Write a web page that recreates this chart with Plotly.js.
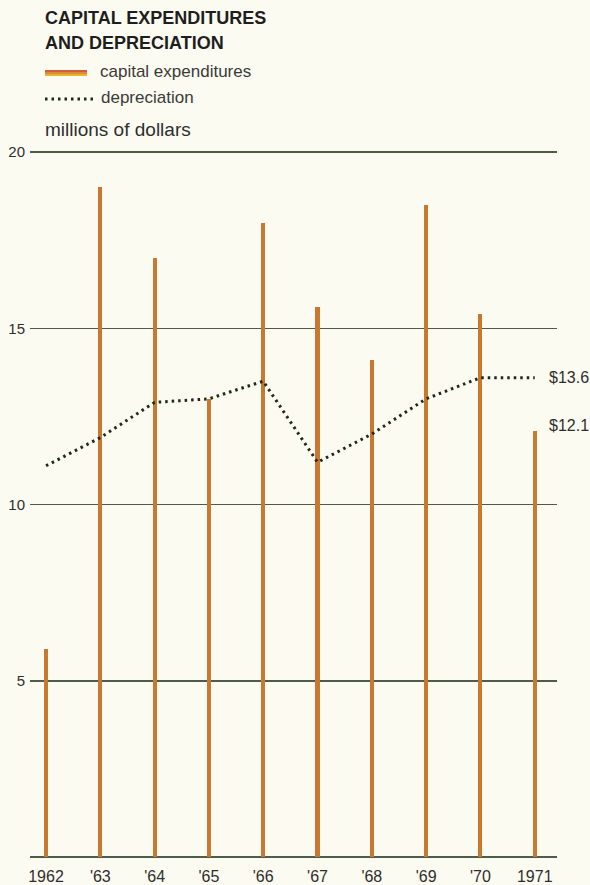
<!DOCTYPE html>
<html>
<head>
<meta charset="utf-8">
<script src="https://cdn.plot.ly/plotly-3.0.1.min.js"></script>
<style>
  html, body { margin: 0; padding: 0; background: #fcfbf1; }
  #chart { width: 590px; height: 885px; }
</style>
</head>
<body>
<div id="chart"></div>
<script>
// Annual figures, millions of dollars
const years = ['1962', "'63", "'64", "'65", "'66", "'67", "'68", "'69", "'70", '1971'];
const capitalExpenditures = [5.9, 19.0, 17.0, 13.0, 18.0, 15.6, 14.1, 18.5, 15.4, 12.1];
const depreciation = [11.1, 11.9, 12.9, 13.0, 13.5, 11.2, 12.0, 13.0, 13.6, 13.6];
const yTicks = [5, 10, 15, 20];

const ink = '#2e2e2e';
const gridInk = '#4f5c47';
const barInk = '#c9782f';
const font = 'Liberation Sans, Arial, sans-serif';

const lastIdx = years.length - 1;

// plot box in pixels, used to place the header block above it
// (35.25 px per million: 0 sits on y=857, 20 on y=152)
const box = { l: 30, r: 33, t: 150, b: 28 };
const yTop = 20.06;
const plotW = 590 - box.l - box.r;
const plotH = 885 - box.t - box.b;
const px = (x) => (x - box.l) / plotW;
const py = (y) => (885 - box.b - y) / plotH;
const xMax = 9.41;
const paperOf = (idx) => (idx + 0.295) / (xMax + 0.295);

const traces = [
  {
    type: 'bar',
    x: years,
    y: capitalExpenditures,
    width: 0.075,
    marker: { color: barInk, line: { width: 0 } },
    hoverinfo: 'skip',
    showlegend: false
  },
  {
    type: 'scatter',
    mode: 'lines',
    x: years,
    y: depreciation,
    line: { color: '#1d2a1a', width: 3, dash: '2.5px,4px' },
    hoverinfo: 'skip',
    showlegend: false
  }
];

const layout = {
  width: 590,
  height: 885,
  margin: box,
  paper_bgcolor: '#fcfbf1',
  plot_bgcolor: '#fcfbf1',
  font: { family: font, color: ink },
  bargap: 0,
  xaxis: {
    type: 'category',
    range: [-0.295, xMax],
    showgrid: false,
    zeroline: false,
    showline: false,
    ticks: '',
    ticklabelstandoff: 8,
    tickfont: { size: 16, color: ink },
    fixedrange: true
  },
  yaxis: {
    range: [0, yTop],
    tickvals: yTicks,
    ticktext: yTicks.map(String),
    showgrid: true,
    gridcolor: gridInk,
    gridwidth: 1.5,
    zeroline: true,
    zerolinecolor: gridInk,
    zerolinewidth: 1.5,
    showline: false,
    ticks: '',
    ticklabelstandoff: 4,
    tickfont: { size: 15, color: ink },
    fixedrange: true
  },
  shapes: [
    // legend swatch: capital expenditures (red / orange / yellow band)
    { type: 'line', xref: 'paper', yref: 'paper',
      x0: px(45), x1: px(87), y0: py(71), y1: py(71),
      line: { color: '#d0613e', width: 2 } },
    { type: 'line', xref: 'paper', yref: 'paper',
      x0: px(45), x1: px(87), y0: py(73), y1: py(73),
      line: { color: '#dc8a35', width: 2 } },
    { type: 'line', xref: 'paper', yref: 'paper',
      x0: px(45), x1: px(87), y0: py(75), y1: py(75),
      line: { color: '#e6b531', width: 2 } },
    // legend swatch: depreciation
    { type: 'line', xref: 'paper', yref: 'paper',
      x0: px(45), x1: px(94), y0: py(99), y1: py(99),
      line: { color: '#1d2a1a', width: 3, dash: '2.5px,4px' } }
  ],
  annotations: [
    { text: '<b>CAPITAL EXPENDITURES</b>',
      xref: 'paper', yref: 'paper', x: px(43), y: py(18),
      xanchor: 'left', yanchor: 'middle', showarrow: false,
      font: { size: 18, color: '#1e1e1e', family: font } },
    { text: '<b>AND DEPRECIATION</b>',
      xref: 'paper', yref: 'paper', x: px(43), y: py(43),
      xanchor: 'left', yanchor: 'middle', showarrow: false,
      font: { size: 18, color: '#1e1e1e', family: font } },
    { text: 'capital expenditures',
      xref: 'paper', yref: 'paper', x: px(98), y: py(72),
      xanchor: 'left', yanchor: 'middle', showarrow: false,
      font: { size: 17, color: '#3a3a3a', family: font } },
    { text: 'depreciation',
      xref: 'paper', yref: 'paper', x: px(99), y: py(98),
      xanchor: 'left', yanchor: 'middle', showarrow: false,
      font: { size: 17, color: '#3a3a3a', family: font } },
    { text: 'millions of dollars',
      xref: 'paper', yref: 'paper', x: px(43), y: py(130),
      xanchor: 'left', yanchor: 'middle', showarrow: false,
      font: { size: 19, color: ink, family: font } },
    { text: '&#36;' + depreciation[lastIdx].toFixed(1),
      xref: 'paper', yref: 'y',
      x: paperOf(lastIdx), y: depreciation[lastIdx],
      xanchor: 'left', yanchor: 'middle', xshift: 12, showarrow: false,
      font: { size: 16, color: ink, family: font } },
    { text: '&#36;' + capitalExpenditures[lastIdx].toFixed(1),
      xref: 'paper', yref: 'y',
      x: paperOf(lastIdx), y: capitalExpenditures[lastIdx],
      xanchor: 'left', yanchor: 'middle', xshift: 12, yshift: 5, showarrow: false,
      font: { size: 16, color: ink, family: font } }
  ]
};

Plotly.newPlot('chart', traces, layout, { displayModeBar: false, staticPlot: true });
</script>
</body>
</html>
